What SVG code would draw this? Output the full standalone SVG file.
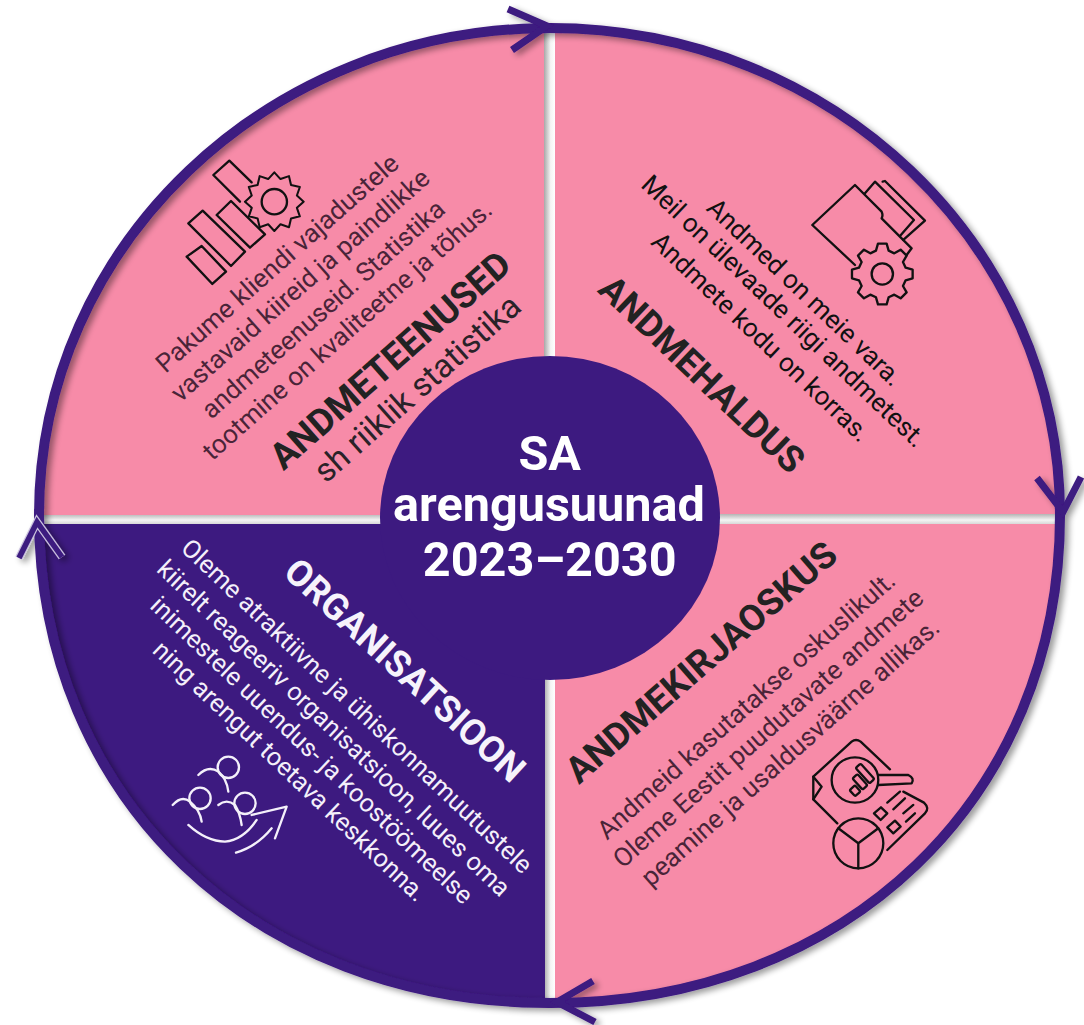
<svg xmlns="http://www.w3.org/2000/svg" width="1084" height="1025" viewBox="0 0 1084 1025">
<style>
text{font-family:Roboto,"Liberation Sans",sans-serif}
.b{font-size:26px;text-anchor:middle;fill:#4a2438}
.k{fill:#111}
.w{fill:#f4f0fa;font-size:25.4px}
.t{font-size:36.5px;font-weight:700;text-anchor:middle;fill:#222}
.c{font-size:48.6px;font-weight:700;text-anchor:middle;fill:#fff}
.i{fill:none;stroke:#111;stroke-width:7;stroke-linejoin:round;stroke-linecap:round}
.a{fill:none;stroke:#3d1a80;stroke-width:7;stroke-linejoin:miter}
</style>
<defs>
<clipPath id="disc"><path d="M1060,515C1060,798 846,1003 550,1003C254,1003 39,798 39,515C39,246 268,28 550,28C832,28 1060,246 1060,515Z"/></clipPath>
<linearGradient id="gv" x1="0" x2="1" y1="0" y2="0"><stop offset="0" stop-color="#a8a8a8"/><stop offset=".6" stop-color="#f4f4f4"/><stop offset="1" stop-color="#fff"/></linearGradient>
<linearGradient id="gh" x1="0" x2="0" y1="0" y2="1"><stop offset="0" stop-color="#b4b4b4"/><stop offset=".6" stop-color="#f4f4f4"/><stop offset="1" stop-color="#d8d8d8"/></linearGradient>
<filter id="sh" x="-5%" y="-5%" width="110%" height="110%"><feGaussianBlur in="SourceAlpha" stdDeviation="3"/><feOffset dx="4" dy="3"/><feComponentTransfer><feFuncA type="linear" slope=".4"/></feComponentTransfer><feMerge><feMergeNode/><feMergeNode in="SourceGraphic"/></feMerge></filter>
</defs>
<g id="quadrants" clip-path="url(#disc)">
<rect x="544" y="20" width="11" height="990" fill="url(#gv)"/>
<rect x="30" y="514" width="1040" height="10" fill="url(#gh)"/>
<g id="q-tl"><rect x="30" y="20" width="514" height="495" fill="#f78ba8"/></g>
<g id="q-tr"><rect x="555" y="20" width="515" height="494" fill="#f78ba8"/></g>
<g id="q-br"><rect x="555" y="524" width="515" height="486" fill="#f78ba8"/></g>
<g id="q-bl"><rect x="30" y="524" width="515" height="486" fill="#3d1a80"/></g>
</g>
<g id="connectors" filter="url(#sh)">
<path d="M1060,515C1060,798 846,1003 550,1003C254,1003 39,798 39,515C39,246 268,28 550,28C832,28 1060,246 1060,515Z" fill="none" stroke="#3d1a80" stroke-width="10"/>
<polyline class="a" points="508,9 547,26 512,50"/>
<polyline class="a" points="1037,478 1063,512 1081,477"/>
<polyline class="a" points="593,981 557,1002 595,1022"/>
<polyline class="a" points="19,558 37,522 62,557" style="stroke:#c9c0dd;stroke-width:8"/>
<polyline class="a" points="19,558 37,522 62,557" style="stroke-width:5.5"/>
</g>
<g id="center">
<ellipse cx="550" cy="518" rx="170" ry="162" fill="#3d1a80"/>
<text class="c"><tspan x="549.7" y="470">SA</tspan><tspan x="549" y="521">arengusuunad</tspan><tspan x="549.7" y="576">2023–2030</tspan></text>
</g>
<g id="andmeteenused">
<text class="b" dy=".35em" transform="translate(277,263) rotate(-41.5)">Pakume kliendi vajadustele</text>
<text class="b" dy=".35em" transform="translate(300,285) rotate(-41.5)">vastavaid kiireid ja paindlikke</text>
<text class="b" dy=".35em" transform="translate(323,309) rotate(-41.5)">andmeteenuseid. Statistika</text>
<text class="b" dy=".35em" transform="translate(347,330) rotate(-41.5)">tootmine on kvaliteetne ja tõhus.</text>
<text class="t" dy=".35em" transform="translate(390,360) rotate(-41.5)">ANDMETEENUSED</text>
<text class="b" style="font-size:33px;fill:#2a2228" dy=".35em" transform="translate(417,388) rotate(-41.5)">sh riiklik statistika</text>
<g transform="translate(150,140) scale(.3333)">
<path class="i" d="M305,127L238,62L190,105L270,185"/>
<polygon class="i" points="200,225 243,183 345,283 300,323"/>
<polygon class="i" points="115,250 158,212 285,335 243,378"/>
<polygon class="i" points="110,350 155,318 228,395 187,432"/>
<polygon class="i" style="fill:#f78ba8" transform="translate(373,185) scale(.88)" points="100,0 77,21 87,50 57,57 50,87 21,77 0,100 -21,77 -50,87 -57,57 -87,50 -77,21 -100,0 -77,-21 -87,-50 -57,-57 -50,-87 -21,-77 0,-100 21,-77 50,-87 57,-57 87,-50 77,-21"/>
<circle class="i" cx="373" cy="185" r="38"/>
</g>
</g>
<g id="andmehaldus">
<text class="b k" dy=".35em" transform="translate(805,292) rotate(43.6)">Andmed on meie vara.</text>
<text class="b k" dy=".35em" transform="translate(784,311) rotate(43.6)">Meil on ülevaade riigi andmetest.</text>
<text class="b k" dy=".35em" transform="translate(761,337) rotate(43.6)">Andmete kodu on korras.</text>
<text class="t k" dy=".35em" transform="translate(702,374) rotate(43.6)">ANDMEHALDUS</text>
<g transform="translate(560,150) scale(.3333)">
<path class="i" d="M885,345L757,225L885,105L965,185Q970,195 965,205L1055,295L1040,315"/>
<path class="i" d="M915,130L945,95L1062,210L1020,258"/>
<path class="i" d="M968,95L975,93L1095,212L1030,270"/>
<polygon class="i" style="fill:#f78ba8" transform="translate(967,372)" points="91,-13 91,13 70,19 62,36 73,55 55,73 36,62 19,70 13,91 -13,91 -19,70 -36,62 -55,73 -73,55 -62,36 -70,19 -91,13 -91,-13 -70,-19 -62,-36 -73,-55 -55,-73 -36,-62 -19,-70 -13,-91 13,-91 19,-70 36,-62 55,-73 73,-55 62,-36 70,-19"/>
<circle class="i" cx="967" cy="372" r="32"/>
</g>
</g>
<g id="andmekirjaoskus">
<text class="t" dy=".35em" transform="translate(701,662) rotate(-41)">ANDMEKIRJAOSKUS</text>
<text class="b" dy=".35em" transform="translate(746,705) rotate(-41.6)">Andmeid kasutatakse oskuslikult.</text>
<text class="b" dy=".35em" transform="translate(768,728) rotate(-41.6)">Oleme Eestit puudutavate andmete</text>
<text class="b" dy=".35em" transform="translate(790,752) rotate(-41.6)">peamine ja usaldusväärne allikas.</text>
<g transform="translate(550,520) scale(.3333)">
<path class="i" d="M862,910L790,838V770L905,665Q918,655 932,665L1020,748"/>
<path class="i" d="M790,770L815,800L790,838"/>
<ellipse class="i" cx="915" cy="780" rx="70" ry="68"/>
<path class="i" d="M985,765L1075,765Q1095,775 1085,790L985,795"/>
<g transform="rotate(-42 925 780)"><rect class="i" x="885" y="785" width="22" height="25" rx="5"/><rect class="i" x="915" y="765" width="20" height="45" rx="5"/><rect class="i" x="943" y="748" width="20" height="62" rx="5"/></g>
<path class="i" d="M1060,815L1122,848Q1140,865 1125,880L1012,990"/>
<circle class="i" cx="925" cy="970" r="75"/>
<path class="i" d="M925,970L865,925M925,970L985,925M925,970V1045"/>
<polygon class="i" points="972,880 993,862 1012,880 992,900"/>
<polygon class="i" points="1012,922 1035,902 1052,920 1030,940"/>
<path class="i" d="M1012,848L1050,815M1030,868L1065,835M1060,880L1090,855M1068,905L1095,880"/>
</g>
</g>
<g id="organisatsioon">
<text class="t" style="fill:#f6f3fb" dy=".35em" transform="translate(405,670) rotate(42.5)">ORGANISATSIOON</text>
<text class="b w" dy=".35em" transform="translate(357,706) rotate(43.5)">Oleme atraktiivne ja ühiskonnamuutustele</text>
<text class="b w" dy=".35em" transform="translate(334,728) rotate(43.5)">kiirelt reageeriv organisatsioon, luues oma</text>
<text class="b w" dy=".35em" transform="translate(312,750) rotate(43.5)">inimestele uuendus- ja koostöömeelse</text>
<text class="b w" dy=".35em" transform="translate(290,771) rotate(43.5)">ning arengut toetava keskkonna.</text>
<g transform="translate(150,530) scale(.3333)">
<g class="i" style="stroke:#f4f0fa">
<circle cx="235" cy="712" r="32"/><circle cx="150" cy="805" r="32"/><circle cx="285" cy="820" r="32"/>
<path d="M145,735Q175,705 205,725Q230,745 235,785"/>
<path d="M68,825Q95,795 120,815Q150,840 155,875"/>
<path d="M205,825Q230,805 255,825Q270,850 275,885"/>
<path d="M115,885Q170,935 225,935Q280,930 320,870"/>
<path d="M258,968Q320,950 365,895"/>
<path d="M305,855L410,830L375,925"/>
</g></g>
</g>
</svg>
